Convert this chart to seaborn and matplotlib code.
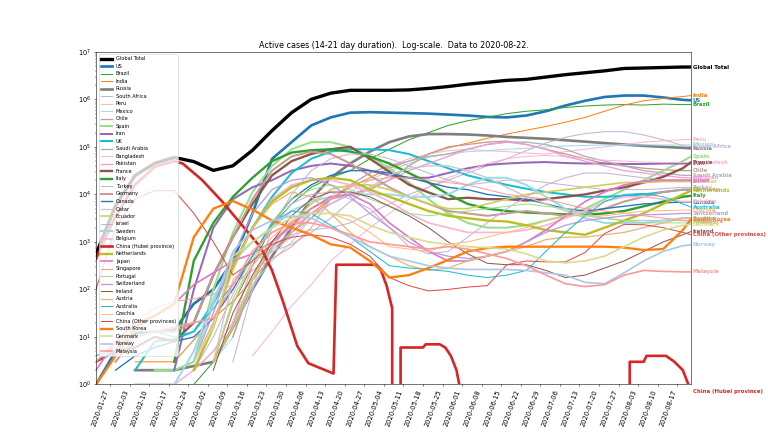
import numpy as np
import pandas as pd
import matplotlib
matplotlib.use("Agg")
import matplotlib.pyplot as plt
import matplotlib.dates as mdates
import seaborn as sns

nan = np.nan

# weekly sample dates (2020-01-22 ... 2020-08-19) plus last day 2020-08-22
week_dates = pd.date_range("2020-01-22", "2020-08-19", freq="7D").append(pd.DatetimeIndex(["2020-08-22"]))

global_total = [550, 5800, 25000, 45000, 60000, 49000, 32000, 40000, 85000, 220000, 525000, 1000000, 1350000, 1550000, 1550000, 1550000,
                1580000, 1700000, 1860000, 2090000, 2290000, 2510000, 2630000, 2950000, 3310000, 3630000, 3980000, 4470000, 4570000, 4680000, 4790000, 4790000]
us = [1, 5, 12, 13, 14, 50, 100, 400, 4000, 56000, 126000, 282000, 417000, 525000, 537000, 525000,
      513000, 501000, 479000, 457000, 427000, 417000, 457000, 562000, 741000, 933000, 1122000, 1202000, 1202000, 1096000, 977000, 955000]
brazil = [nan] * 5 + [1, 3, 50, 316, 2240, 6300, 14100, 22400, 31600, 56200, 89100, 141000, 200000, 282000, 355000, 417000,
                      501000, 562000, 603000, 676000, 724000, 759000, 776000, 759000, 794000, 776000, 776000]
india = [nan, nan, 3, 3, 3, nan, 25, 56, 158, 501, 1585, 3981, 7943, 14125, 22387, 35481,
         50119, 70795, 95500, 120000, 151000, 186000, 224000, 269000, 331000, 417000, 562000, 759000, 933000, 1047000, 1148000, 1202000]
russia = [nan, nan, 2, 2, 2, nan, 3, 16, 100, 501, 1995, 7943, 22400, 44700, 79400, 126000,
          166000, 186000, 186000, 182000, 174000, 162000, 155000, 148000, 138000, 129000, 120000, 112000, 105000, 100000, 95500, 93300]
south_africa = [nan] * 7 + [16, 100, 708, 1413, 1778, 1995, 2512, 3981, 6310, 10000, 14125, 19953, 28184, 39811, 56234, 83176,
                            120226, 158489, 190546, 208930, 208930, 177828, 141254, 107152, 100000]
peru = [nan] * 7 + [10, 200, 631, 1259, 3162, 7943, 15849, 28184, 39811, 56234, 70795, 83176, 89125, 83176, 79433, 74131,
                    70795, 79433, 89125, 100000, 112202, 125893, 134896, 141254, 144544]
mexico = [nan] * 6 + [3, 10, 126, 398, 1000, 3162, 6310, 11220, 19953, 31623, 44668, 60256, 70795, 79433, 83176, 89125,
                      93325, 100000, 104713, 107152, 109648, 109648, 109648, 109648, 109648, 109648]
chile = [nan] * 7 + [10, 158, 794, 2512, 5012, 7943, 10000, 12589, 19953, 39811, 70795, 100000, 112202, 125893, 131826, 112202,
                     89125, 70795, 56234, 44668, 39811, 35481, 33113, 31623, 31623]
spain = [nan, nan, nan, 2, 2, 3, 100, 1585, 11220, 39811, 89125, 125893, 125893, 100000, 63096, 35481,
         17783, 7943, 3981, 2512, 1995, 1995, 2239, 2818, 3548, 5012, 7943, 12589, 19953, 31623, 50119, 63096]
iran = [nan] * 4 + [2, 100, 1995, 7943, 14125, 19953, 31623, 39811, 44668, 39811, 31623, 25119, 22387, 22387, 28184, 35481,
                    41687, 44668, 46774, 47863, 45709, 44668, 44668, 43652, 43652, 44668, 44668, 44668]
uk = [nan, nan, 2, 8, 9, 13, 50, 316, 1995, 8913, 28184, 56234, 79433, 89125, 89125, 85114,
      70795, 50119, 35481, 25119, 19953, 15849, 13183, 11220, 10000, 8913, 8913, 9333, 10000, 11220, 12589, 12589]
saudi_arabia = [nan] * 7 + [20, 158, 794, 1585, 3162, 7943, 15849, 28184, 39811, 50119, 63096, 70795, 89125, 112202, 125893, 125893,
                            112202, 89125, 63096, 50119, 39811, 31623, 28184, 25119, 25119]
bangladesh = [nan] * 8 + [4, 13, 45, 126, 398, 891, 1995, 3981, 7943, 14125, 22387, 31623, 44668, 56234, 63096, 66069,
                          63096, 56234, 52481, 50119, 47863, 46774, 46774, 46774]
pakistan = [nan] * 5 + [2, 5, 20, 316, 1000, 1995, 3981, 6310, 10000, 14125, 19953, 31623, 44668, 63096, 89125, 112202,
                        125893, 112202, 89125, 63096, 50119, 39811, 31623, 28184, 25119, 22387, 22387]
france = [3, 5, 6, 10, 8, 20, 200, 1259, 6310, 25119, 50119, 70795, 89125, 100000, 56234, 30000,
          16000, 11000, 7943, 8511, 7943, 7943, 7413, 7943, 8913, 10000, 12023, 14125, 17783, 23442, 35481, 47863]
italy = [nan, nan, nan, nan, 3, 400, 2512, 8913, 22387, 50119, 75858, 85114, 89125, 79433, 63096, 44668,
         28184, 17783, 10000, 6310, 5012, 4467, 4169, 3981, 3802, 3715, 3981, 4467, 5623, 7079, 8913, 9333]
turkey = [nan] * 7 + [3, 100, 1995, 10000, 31623, 56234, 70795, 70795, 56234, 39811, 28184, 19953, 15849, 17783, 19953, 19953,
                      17783, 15849, 14125, 12589, 12589, 12589, 13183, 14125, 14125]
germany = [nan, 3, 10, 13, 13, 20, 200, 1259, 7943, 31623, 63096, 79433, 70795, 44668, 25119, 14125,
           8913, 6310, 4467, 3981, 3548, 3981, 4467, 3981, 3548, 3981, 5012, 7079, 8913, 11220, 12589, 12589]
canada = [nan, 2, 4, 6, 8, 10, 25, 100, 501, 2512, 7943, 15849, 25119, 31623, 31623, 28184,
          22387, 17783, 14125, 12589, 10000, 8913, 7943, 6310, 5012, 4467, 5012, 5623, 6310, 6607, 6918, 6918]
qatar = [nan] * 6 + [3, 158, 398, 631, 891, 1585, 3162, 7079, 14125, 25119, 35481, 39811, 39811, 31623, 22387, 14125,
                     8913, 6310, 4467, 3548, 3162, 2818, 2818, 2818, 2818, 2818]
ecuador = [nan] * 6 + [3, 16, 158, 1000, 2512, 6310, 12589, 15849, 15849, 12589, 8913, 6310, 5012, 5012, 6310, 7943,
                       10000, 11220, 12589, 14125, 15849, 17783, 17783, 18621, 18621, 18621]
israel = [nan] * 5 + [2, 10, 79, 501, 1995, 6310, 10000, 11220, 7943, 5012, 1995, 794, 562, 631, 1259, 2512,
                      5012, 8913, 15849, 22387, 28184, 28184, 25119, 22387, 19953, 19953, 19953]
sweden = [nan, nan, 1, 1, 1, 5, 63, 398, 1000, 1995, 4467, 7079, 8913, 10000, 10000, 10000,
          8913, 8913, 10000, 15849, 22387, 22387, 15849, 8913, 5012, 3162, 2512, 2512, 2512, 2818, 3162, 3162]
belgium = [nan, nan, 1, 1, 1, 2, 20, 316, 1995, 7943, 15849, 19953, 19953, 15849, 11220, 7079,
           3981, 2512, 1995, 1585, 1585, 1585, 1778, 2239, 3162, 4467, 7079, 8913, 8913, 7943, 7079, 7079]
netherlands = [nan] * 5 + [2, 16, 316, 1995, 7079, 14125, 19953, 22387, 19953, 12589, 8913, 6310, 4467, 3548, 3162, 2818,
                           2692, 2239, 1778, 1585, 1413, 1995, 2818, 3981, 6310, 10000, 12023]
japan = [2, 8, 20, 28, 50, 126, 224, 398, 562, 1000, 2239, 5012, 8913, 10000, 6310, 2512,
         1259, 631, 398, 398, 501, 631, 1000, 1778, 3548, 7079, 11220, 15849, 19055, 19953, 19953, 19953]
singapore = [nan, 5, 20, 40, 56, 63, 79, 126, 251, 447, 794, 1995, 7943, 15849, 19953, 22387,
             22387, 19953, 17783, 15849, 12589, 10000, 8913, 7943, 6310, 5012, 4467, 3981, 3548, 3162, 2818, 2754]
portugal = [nan] * 6 + [3, 63, 398, 2512, 7943, 12589, 15849, 12589, 7943, 5623, 3981, 3548, 3981, 4467, 5012, 5623,
                        6310, 5623, 5012, 3981, 3162, 2818, 2512, 2512, 2512, 2512]
switzerland = [nan] * 5 + [3, 32, 501, 3981, 12589, 19953, 22387, 15849, 8913, 3981, 1995, 1000, 631, 501, 447, 501,
                           631, 1000, 1585, 2239, 2818, 3162, 3548, 3715, 3802, 3981, 3981]
ireland = [nan] * 6 + [2, 32, 200, 1000, 3548, 7943, 11220, 11220, 8913, 5623, 3548, 1995, 1000, 562, 355, 331,
                       331, 251, 178, 200, 282, 398, 631, 1000, 1413, 1660]
austria = [nan] * 5 + [3, 20, 251, 1995, 6310, 11220, 8913, 3981, 1585, 794, 501, 316, 251, 282, 398, 501,
                       631, 794, 1122, 1259, 1259, 1413, 1585, 1995, 2512, 3162, 3162]
australia = [4, 6, 13, 13, 10, 13, 40, 126, 501, 2512, 4467, 3981, 2239, 1259, 631, 316,
             282, 263, 240, 200, 178, 200, 251, 631, 1585, 3548, 7079, 10000, 10471, 8913, 6310, 5370]
czechia = [nan] * 6 + [3, 50, 398, 1259, 2818, 3981, 3981, 2818, 1585, 794, 708, 631, 891, 1000, 1259, 1585,
                       1995, 2818, 3548, 3548, 3548, 3981, 4467, 4571, 4677, 4677]
china_other = [100, 2000, 8000, 12000, 12000, 4000, 1000, 200, 398, 891, 1259, 1413, 1259, 891, 501, 178,
               120, 93, 100, 112, 120, 331, 398, 380, 380, 600, 1500, 2344, 2300, 1995, 1585, 1413]
south_korea = [1, 4, 16, 28, 50, 1259, 5012, 7244, 4786, 2818, 1995, 1413, 891, 759, 398, 178,
               200, 282, 417, 631, 741, 794, 794, 794, 794, 794, 794, 759, 676, 708, 1778, 3020]
denmark = [nan] * 5 + [3, 16, 501, 1000, 1995, 3162, 3981, 3981, 3548, 2239, 1585, 1259, 1000, 891, 794, 759,
                       708, 562, 398, 363, 398, 501, 794, 1259, 1778, 2239, 2344]
norway = [nan] * 5 + [3, 50, 631, 1778, 2818, 3548, 3162, 1995, 1259, 794, 501, 398, 316, 282, 263, 263,
                      263, 251, 224, 200, 141, 132, 224, 398, 631, 832, 871]
malaysia = [3, 8, 10, 13, 16, 20, 25, 126, 631, 1585, 2512, 2512, 1995, 1413, 1000, 891,
            794, 708, 794, 708, 562, 447, 316, 200, 132, 115, 126, 200, 251, 240, 234, 234]

# Hubei has its own (irregular) dates because of its sharp steps
hubei_dates = pd.to_datetime([
    "2020-01-22", "2020-01-29", "2020-02-05", "2020-02-12", "2020-02-19", "2020-02-22", "2020-02-29", "2020-03-07",
    "2020-03-14", "2020-03-21", "2020-03-25", "2020-03-29", "2020-04-03", "2020-04-07", "2020-04-16", "2020-04-17",
    "2020-05-01", "2020-05-03", "2020-05-05", "2020-05-07", "2020-05-08", "2020-05-09", "2020-05-10", "2020-05-18",
    "2020-05-19", "2020-05-24", "2020-05-26", "2020-05-28", "2020-05-30", "2020-05-31", "2020-06-01", "2020-07-30",
    "2020-07-31", "2020-08-05", "2020-08-06", "2020-08-13", "2020-08-16", "2020-08-19", "2020-08-22"])
hubei = [444, 3500, 16000, 38000, 50000, 44668, 20000, 7244, 2344, 759, 250, 54, 6.5, 2.8, 1.7, 331,
         331, 250, 120, 40, 0, 0, 6, 6, 7, 7, 6, 4, 2, 1, 0, 0, 3, 3, 4, 4, 3, 2, 0.7]

names = ["Global Total", "US", "Brazil", "India", "Russia", "South Africa", "Peru", "Mexico", "Chile", "Spain",
         "Iran", "UK", "Saudi Arabia", "Bangladesh", "Pakistan", "France", "Italy", "Turkey", "Germany", "Canada",
         "Qatar", "Ecuador", "Israel", "Sweden", "Belgium", "China (Hubei province)", "Netherlands", "Japan",
         "Singapore", "Portugal", "Switzerland", "Ireland", "Austria", "Australia", "Czechia",
         "China (Other provinces)", "South Korea", "Denmark", "Norway", "Malaysia"]
values = [global_total, us, brazil, india, russia, south_africa, peru, mexico, chile, spain,
          iran, uk, saudi_arabia, bangladesh, pakistan, france, italy, turkey, germany, canada,
          qatar, ecuador, israel, sweden, belgium, hubei, netherlands, japan,
          singapore, portugal, switzerland, ireland, austria, australia, czechia,
          china_other, south_korea, denmark, norway, malaysia]

colors = ["black", "#1f77b4", "#2ca02c", "#ff7f0e", "#7f7f7f", "#c5b0d5", "#f7b6d2", "#9edae5", "#c49c94", "#98df8a",
          "#9467bd", "#17becf", "#b0b0b0", "#f7b6d2", "#f29fd0", "#8c564b", "#2ca02c", "#c5b0d5", "#c49c94", "#1f77b4",
          "#c7c7c7", "#cfcf5a", "#c5b0d5", "#9edae5", "#f7b6d2", "#d62728", "#bcbd22", "#e377c2",
          "#ff9896", "#98df8a", "#b9a0dc", "#8c564b", "#e5b87a", "#17becf", "#ffbb78",
          "#e04848", "#ff7f0e", "#dbdb8d", "#aec7e8", "#ff9896"]
widths = [5, 4, 1.5, 1.5, 4, 1.5, 1.5, 1.5, 2, 3,
          3, 3, 2, 1.5, 2, 3.5, 3.5, 1.5, 3, 2,
          2, 2.5, 1.5, 3, 2.5, 4, 3.5, 2.5,
          1.5, 1.5, 2, 1.5, 2, 1.5, 1.5,
          1.5, 3.5, 2.5, 2.5, 2.5]

fig, ax = plt.subplots(figsize=(16, 9), dpi=48)

handles = []
for name, vals, col, lw in zip(names, values, colors, widths):
    xs = hubei_dates if name == "China (Hubei province)" else week_dates
    sns.lineplot(x=xs, y=vals, ax=ax, color=col, linewidth=lw, estimator=None, label=name, legend=False)
    handles.append(ax.lines[-1])

ax.set_yscale("log")
ax.set_ylim(1, 1e7)
ax.set_xlim(pd.Timestamp("2020-01-22"), pd.Timestamp("2020-08-22"))
ax.set_xticks(pd.date_range("2020-01-27", "2020-08-17", freq="7D"))
ax.xaxis.set_major_formatter(mdates.DateFormatter("%Y-%m-%d"))
plt.setp(ax.get_xticklabels(), rotation=70, ha="right")
ax.set_xlabel("")
ax.set_ylabel("")
ax.set_title("Active cases (14-21 day duration).  Log-scale.  Data to 2020-08-22.")

for name, vals, col in zip(names, values, colors):
    ax.annotate(name, xy=(1, vals[-1]), xycoords=("axes fraction", "data"), xytext=(2, 0),
                textcoords="offset points", va="center", ha="left", fontsize=8, fontweight="bold",
                color=col, annotation_clip=False)

ax.legend(handles=handles, labels=names, loc="upper left", fontsize=7.5, handlelength=2.3)

fig.savefig("out.png", dpi=48)
